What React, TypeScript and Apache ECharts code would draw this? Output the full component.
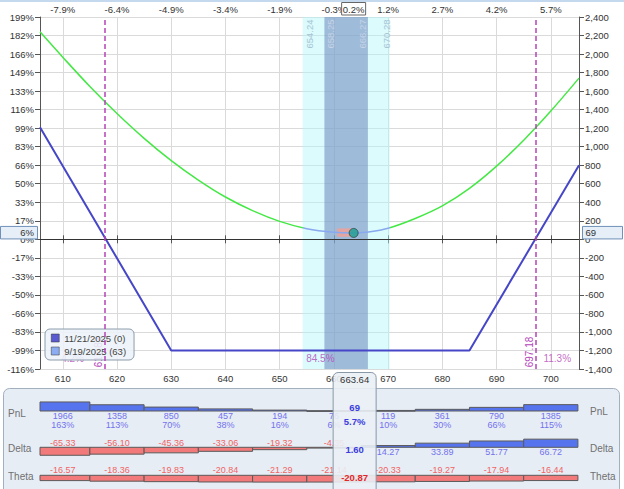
import React, { useEffect, useRef } from 'react';
import * as echarts from 'echarts';

const W = 624;
const H = 489;
const X_MIN = 605.8;
const X_MAX = 705.2;
const Y_MIN = -1400;
const Y_MAX = 2400;
const Y_STEP = 200;

const xTickValues = [610, 620, 630, 640, 650, 660, 670, 680, 690, 700];
const topPctLabels = ['-7.9%', '-6.4%', '-4.9%', '-3.4%', '-1.9%', '-0.3%', '1.2%', '2.7%', '4.2%', '5.7%'];
const leftPctLabels = ['199%', '182%', '166%', '149%', '133%', '116%', '99%', '83%', '66%', '50%', '33%', '17%', '0%', '-17%', '-33%', '-50%', '-66%', '-83%', '-99%', '-116%'];

const currentPrice = 663.64;
const currentPnl = 69;
const currentPnlPct = '5.7%';
const currentPnlPctRounded = '6%';
const currentMovePct = '0.2%';
const currentDelta = '1.60';
const currentTheta = '-20.87';

const expiryName = '11/21/2025 (0)';
const t0Name = '9/19/2025 (63)';
const expiryPrices = [605.8, 630, 685, 705.2];
const expiryPnl = [1210, -1200, -1200, 800];

const t0Prices = [605.8, 610, 615, 620, 625, 630, 635, 640, 645, 650, 655, 660, 663.64, 667, 670, 675, 680, 685, 690, 695, 700, 705.2];
const t0Pnl = [2240, 1966, 1650, 1358, 1090, 850, 640, 457, 310, 194, 115, 76, 69, 85, 119, 225, 361, 550, 790, 1070, 1385, 1740];

const breakevens = [617.82, 697.18];
const breakevenLabels = ['617.82', '697.18'];
const probLabels = ['4.2%', '84.5%', '11.3%'];
const probLabelY = -1285;

const band1 = [654.24, 670.28];
const band05 = [658.25, 666.27];
const bandLabels = ['654.24', '658.25', '666.27', '670.28'];

const priceMarkerX = [660.6, 663.3];
const priceMarkerY = [28, 118];

const tablePrices = [610, 620, 630, 640, 650, 660, 670, 680, 690, 700];
const tablePnl = [1966, 1358, 850, 457, 194, 76, 119, 361, 790, 1385];
const tablePnlPct = ['163%', '113%', '70%', '38%', '16%', '6%', '10%', '30%', '66%', '115%'];
const tableDelta = [-65.33, -56.1, -45.36, -33.06, -19.32, -4.35, 14.27, 33.89, 51.77, 66.72];
const tableTheta = [-16.57, -18.36, -19.83, -20.84, -21.29, -21.14, -20.33, -19.27, -17.94, -16.44];

const FONT = '"Liberation Sans", Arial, sans-serif';
const GREEN = '#44e844';
const BLUE_T0 = '#88a8f0';
const EXP_BLUE = '#4646c8';
const MAGENTA = '#b444b8';
const BAR_BLUE = '#5674ee';
const BAR_RED = '#f27a7a';
const TXT_BLUE = '#7272ee';
const TXT_RED = '#f06464';

const PNL_BASE = 411;
const K_PNL = 0.0046;
const DELTA_BASE = 447.3;
const K_DELTA = 0.122;
const THETA_BASE = 475.3;
const K_THETA = 0.32;

function txt(x: number, y: number, text: string, fill: string, size = 9, align = 'center', weight = 'normal') {
  return {
    type: 'text',
    x,
    y,
    style: {
      text,
      x: 0,
      y: 0,
      fill,
      font: `${weight} ${size}px ${FONT}`,
      align,
      verticalAlign: 'middle',
      textAlign: align,
      textVerticalAlign: 'middle',
    },
  };
}

export default function App() {
  const ref = useRef<HTMLDivElement>(null);

  useEffect(() => {
    const el = ref.current as HTMLDivElement;
    const chart = echarts.init(el, null, { renderer: 'svg', width: W, height: H });

    const t0Data = t0Prices.map((p, i) => [p, t0Pnl[i]]);
    const expiryData = expiryPrices.map((p, i) => [p, expiryPnl[i]]);
    const tableData = tablePrices.map((p, i) => [p, tablePnl[i], tableDelta[i], tableTheta[i], i]);
    const probEdges = [X_MIN, breakevens[0], breakevens[1], X_MAX];
    const probData = probLabels.map((l, i) => [(probEdges[i] + probEdges[i + 1]) / 2, probLabelY, l]);

    const axisLabelBase = { fontSize: 9.5, color: '#333', fontFamily: FONT };

    const option: any = {
      animation: false,
      textStyle: { fontFamily: FONT },
      grid: { left: 40, right: 45, top: 17, bottom: 120, containLabel: false, outerBoundsMode: 'none' },
      xAxis: [
        {
          type: 'value', min: X_MIN, max: X_MAX, splitNumber: 10, position: 'bottom',
          axisLine: { show: true, lineStyle: { color: '#555' } },
          axisTick: { show: true, length: 4, lineStyle: { color: '#555' } },
          axisLabel: {
            ...axisLabelBase, margin: 4, showMinLabel: false, showMaxLabel: false,
            formatter: (v: number) => (xTickValues.some((t) => Math.abs(t - v) < 1e-6) ? String(Math.round(v)) : ''),
          },
          splitLine: { show: true, lineStyle: { color: '#dadada' } },
        },
        {
          type: 'value', min: X_MIN, max: X_MAX, splitNumber: 10, position: 'top',
          axisLine: { show: true, lineStyle: { color: '#555' } },
          axisTick: { show: true, length: 4, lineStyle: { color: '#555' } },
          axisLabel: {
            ...axisLabelBase, margin: 3, showMinLabel: false, showMaxLabel: false,
            formatter: (v: number) => {
              const i = xTickValues.findIndex((t) => Math.abs(t - v) < 1e-6);
              return i >= 0 ? topPctLabels[i] : '';
            },
          },
          splitLine: { show: false },
        },
      ],
      yAxis: [
        {
          type: 'value', min: Y_MIN, max: Y_MAX, interval: Y_STEP, position: 'left',
          axisLine: { show: true, lineStyle: { color: '#555' } },
          axisTick: { show: true, length: 5, lineStyle: { color: '#555' } },
          axisLabel: {
            ...axisLabelBase, margin: 6,
            formatter: (v: number) => leftPctLabels[Math.round((Y_MAX - v) / Y_STEP)] ?? '',
          },
          splitLine: { show: true, lineStyle: { color: '#dadada' } },
        },
        {
          type: 'value', min: Y_MIN, max: Y_MAX, interval: Y_STEP, position: 'right',
          axisLine: { show: true, lineStyle: { color: '#555' } },
          axisTick: { show: true, length: 5, lineStyle: { color: '#555' } },
          axisLabel: { ...axisLabelBase, margin: 6, formatter: (v: number) => v.toLocaleString('en-US') },
          splitLine: { show: false },
        },
      ],
      visualMap: {
        show: false, type: 'piecewise', seriesIndex: 2, dimension: 0,
        pieces: [
          { lt: band1[0], color: GREEN },
          { gte: band1[0], lte: band1[1], color: BLUE_T0 },
          { gt: band1[1], color: GREEN },
        ],
      },
      legend: {
        orient: 'vertical', left: 45, top: 329,
        backgroundColor: 'rgba(236,242,248,0.88)', borderColor: '#8c9cac', borderWidth: 1, borderRadius: 5,
        padding: [4, 8, 4, 6], itemGap: 3, itemWidth: 8, itemHeight: 8, icon: 'rect',
        textStyle: { fontSize: 9.5, color: '#444', fontFamily: FONT },
        selectedMode: false,
        data: [
          { name: expiryName, itemStyle: { color: '#5a5ad0', borderColor: '#333', borderWidth: 0.5 } },
          { name: t0Name, itemStyle: { color: '#8cacf2', borderColor: '#333', borderWidth: 0.5 } },
        ],
      },
      series: [
        {
          type: 'line', name: 'bands', data: [], z: 1, silent: true,
          markArea: {
            silent: true,
            data: [
              [{ xAxis: band1[0], itemStyle: { color: 'rgba(176,246,248,0.45)' } }, { xAxis: band1[1] }],
              [{ xAxis: band05[0], itemStyle: { color: 'rgba(110,134,190,0.55)' } }, { xAxis: band05[1] }],
            ],
          },
        },
        {
          type: 'line', name: expiryName, data: expiryData, symbol: 'none', z: 4,
          lineStyle: { color: EXP_BLUE, width: 2 }, itemStyle: { color: EXP_BLUE },
          markLine: {
            silent: true, symbol: 'none', label: { show: false },
            data: [
              { yAxis: 0, lineStyle: { color: '#333', width: 1, type: 'solid' } },
              ...breakevens.map((b) => ({ xAxis: b, lineStyle: { color: MAGENTA, width: 1.5, type: [5, 3] } })),
            ],
          },
        },
        {
          type: 'line', name: t0Name, data: t0Data, symbol: 'none', smooth: 0.35, z: 3,
          lineStyle: { width: 1.5 },
        },
        {
          type: 'line', name: 'marker', data: [], z: 5, silent: true,
          markArea: {
            silent: true,
            data: [[
              { xAxis: priceMarkerX[0], yAxis: priceMarkerY[0], itemStyle: { color: 'rgba(240,160,150,0.85)' } },
              { xAxis: priceMarkerX[1], yAxis: priceMarkerY[1] },
            ]],
          },
        },
        {
          type: 'scatter', name: 'current', data: [[currentPrice, currentPnl]], symbolSize: 9, z: 6,
          itemStyle: { color: '#1e9e8e', borderColor: '#2a4848', borderWidth: 1 },
        },
        {
          type: 'scatter', name: 'prob', data: probData, symbolSize: 1, z: 3, silent: true,
          itemStyle: { color: 'rgba(0,0,0,0)' },
          label: {
            show: true, position: 'inside', formatter: (p: any) => p.data[2],
            color: MAGENTA, fontSize: 10, fontFamily: FONT,
          },
        },
        {
          type: 'custom', name: 'table', data: tableData, z: 2, clip: false, silent: true,
          renderItem: (params: any, api: any) => {
            const p = api.value(0);
            const pnl = api.value(1);
            const delta = api.value(2);
            const theta = api.value(3);
            const idx = api.value(4);
            const x0 = api.coord([Math.max(X_MIN, p - 5), 0])[0];
            const x1 = api.coord([Math.min(X_MAX, p + 5), 0])[0];
            const cx = api.coord([p, 0])[0];
            const rect = (y: number, h: number, fill: string) => ({
              type: 'rect',
              shape: { x: x0, y, width: x1 - x0, height: Math.max(h, 0.8) },
              style: { fill, stroke: '#5a5a5a', lineWidth: 1 },
            });
            const children: any[] = [];
            const hp = pnl * K_PNL;
            children.push(rect(PNL_BASE - hp, hp, BAR_BLUE));
            children.push(txt(cx, 415.7, String(pnl), TXT_BLUE, 9));
            children.push(txt(cx, 425, tablePnlPct[idx], TXT_BLUE, 9));
            const hd = Math.abs(delta) * K_DELTA;
            if (delta >= 0) {
              children.push(rect(DELTA_BASE - hd, hd, BAR_BLUE));
              children.push(txt(cx, 452, delta.toFixed(2), TXT_BLUE, 9));
            } else {
              children.push(rect(DELTA_BASE, hd, BAR_RED));
              children.push(txt(cx, 442.5, delta.toFixed(2), TXT_RED, 9));
            }
            const ht = Math.abs(theta) * K_THETA;
            children.push(rect(THETA_BASE, ht, BAR_RED));
            children.push(txt(cx, 470, theta.toFixed(2), TXT_RED, 9));
            return { type: 'group', children };
          },
        },
      ],
    };

    chart.setOption(option);

    const px = (x: number, y: number) => chart.convertToPixel({ xAxisIndex: 0, yAxisIndex: 0 }, [x, y]) as number[];
    const cx = px(currentPrice, 0)[0];
    const cy = px(currentPrice, currentPnl)[1];
    const bandEdges = [band1[0], band05[0], band05[1], band1[1]];
    const bandOffsets = [7, 6, -5, -3];
    const bandColors = ['#a6c4d4', '#c6d4e6', '#c6d4e6', '#a6c4d4'];

    const graphics: any[] = [];
    graphics.push({ type: 'rect', shape: { x: 0, y: 0, width: W, height: 2 }, style: { fill: '#c4d8ee' }, z: 1 });
    bandEdges.forEach((b, i) => {
      const g: any = txt(px(b, 0)[0] + bandOffsets[i], 34, bandLabels[i], bandColors[i], 9.5);
      g.rotation = Math.PI / 2;
      g.z = 3;
      graphics.push(g);
    });
    breakevens.forEach((b, i) => {
      const g: any = txt(px(b, 0)[0] - 6.5, 352, breakevenLabels[i], MAGENTA, 10);
      g.rotation = Math.PI / 2;
      g.z = 3;
      graphics.push(g);
    });
    // table panel
    graphics.push({
      type: 'rect', z: 0,
      shape: { x: 3.5, y: 388.5, width: 616, height: 110, r: 6 },
      style: { fill: '#e7edf5', stroke: '#a2b0be', lineWidth: 1 },
    });
    const rowLabels = ['PnL', 'Delta', 'Theta'];
    const rowYL = [413, 448, 476];
    const rowYR = [411.5, 448, 476];
    rowLabels.forEach((r, i) => {
      graphics.push({ ...txt(8, rowYL[i], r, '#707070', 10, 'left'), z: 1 });
      graphics.push({ ...txt(590, rowYR[i], r, '#707070', 10, 'left'), z: 1 });
    });
    // center panel
    graphics.push({
      type: 'rect', z: 10,
      shape: { x: cx - 20.5, y: 372.5, width: 43, height: 130, r: 5 },
      style: { fill: 'rgba(234,239,245,0.9)', stroke: '#8898a8', lineWidth: 1 },
    });
    graphics.push({ ...txt(cx + 1, 379, currentPrice.toFixed(2), '#333', 9.5), z: 11 });
    graphics.push({ ...txt(cx + 1, 407.7, String(currentPnl), '#3c3ce0', 9.5, 'center', 'bold'), z: 11 });
    graphics.push({ ...txt(cx + 1, 421.7, currentPnlPct, '#3c3ce0', 9.5, 'center', 'bold'), z: 11 });
    graphics.push({ ...txt(cx + 1, 449, currentDelta, '#3c3ce0', 9.5, 'center', 'bold'), z: 11 });
    graphics.push({ ...txt(cx + 1, 477.3, currentTheta, '#e02828', 9.5, 'center', 'bold'), z: 11 });
    // left / right / top boxes
    graphics.push({
      type: 'rect', z: 10, shape: { x: 0.5, y: cy - 6.5, width: 37, height: 12.5 },
      style: { fill: '#e6eef8', stroke: '#7090b8', lineWidth: 1 },
    });
    graphics.push({ ...txt(34, cy, currentPnlPctRounded, '#333', 9.5, 'right'), z: 11 });
    graphics.push({
      type: 'rect', z: 10, shape: { x: 582.5, y: cy - 6.5, width: 40, height: 12.5 },
      style: { fill: '#e6eef8', stroke: '#7090b8', lineWidth: 1 },
    });
    graphics.push({ ...txt(585.5, cy, String(currentPnl), '#333', 9.5, 'left'), z: 11 });
    graphics.push({
      type: 'rect', z: 10, shape: { x: cx - 12, y: 2.5, width: 24, height: 12.5 },
      style: { fill: '#ffffff', stroke: '#666', lineWidth: 1 },
    });
    graphics.push({ ...txt(cx, 9, currentMovePct, '#333', 9.5), z: 11 });

    chart.setOption({ graphic: { elements: graphics } });

    return () => {
      chart.dispose();
    };
  }, []);

  return (
    <div
      ref={ref}
      style={{ position: 'absolute', left: 0, top: 0, width: W, height: H, background: '#fff' }}
    />
  );
}
